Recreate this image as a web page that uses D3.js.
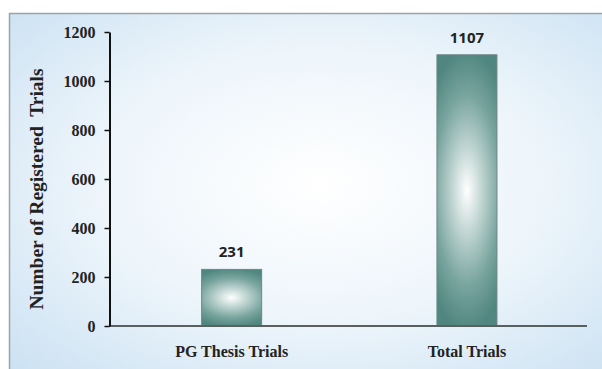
<!DOCTYPE html>
<html>
<head>
<meta charset="utf-8">
<script src="https://cdn.jsdelivr.net/npm/d3@7"></script>
<style>
  html, body { margin: 0; padding: 0; background: #ffffff; }
  svg { display: block; }
</style>
</head>
<body>
<svg id="chart" width="602" height="369"></svg>
<script>
// Registered trials: PG thesis trials versus all trials
const categories = ["PG Thesis Trials", "Total Trials"];
const trialCounts = [231, 1107];
const yTicks = [0, 200, 400, 600, 800, 1000, 1200];
const yTitle = "Number of Registered  Trials";

const svg = d3.select("#chart");
const defs = svg.append("defs");

// panel background: pale centre fading to light blue
const bg = defs.append("radialGradient")
  .attr("id", "panelGrad")
  .attr("cx", "50%").attr("cy", "45%").attr("r", "72%");
bg.append("stop").attr("offset", "0%").attr("stop-color", "#ffffff");
bg.append("stop").attr("offset", "50%").attr("stop-color", "#edf5fb");
bg.append("stop").attr("offset", "100%").attr("stop-color", "#c9e0f2");

// bar fill: white glow in the middle, teal towards the edges
const barGrad = defs.append("radialGradient")
  .attr("id", "barGrad")
  .attr("cx", 0.5).attr("cy", 0.5).attr("r", 0.52)
  .attr("gradientTransform", "translate(0.5,0.5) scale(1.55,1) translate(-0.5,-0.5)");
barGrad.append("stop").attr("offset", "0%").attr("stop-color", "#ffffff");
barGrad.append("stop").attr("offset", "28%").attr("stop-color", "#c6d9d6");
barGrad.append("stop").attr("offset", "68%").attr("stop-color", "#78a49e");
barGrad.append("stop").attr("offset", "100%").attr("stop-color", "#4f867f");

// framed panel
svg.append("rect")
  .attr("x", 9.5).attr("y", 13.5)
  .attr("width", 620).attr("height", 380)
  .attr("fill", "url(#panelGrad)")
  .attr("stroke", "#9aa3a8")
  .attr("stroke-width", 1.5);

const x = d3.scaleBand()
  .domain(categories)
  .range([114, 584.6])
  .paddingInner(0.745)
  .paddingOuter(0.3725);

const y = d3.scaleLinear()
  .domain([0, 1200])
  .range([326, 32]);

// bars
svg.append("g").selectAll("rect")
  .data(categories)
  .join("rect")
  .attr("x", d => x(d))
  .attr("y", (d, i) => y(trialCounts[i]))
  .attr("width", x.bandwidth())
  .attr("height", (d, i) => y(0) - y(trialCounts[i]))
  .attr("fill", "url(#barGrad)")
  .attr("stroke", "#6f8584")
  .attr("stroke-width", 1);

// value labels above bars
svg.append("g").selectAll("text")
  .data(categories)
  .join("text")
  .attr("x", d => x(d) + x.bandwidth() / 2)
  .attr("y", (d, i) => y(trialCounts[i]) - 12)
  .attr("text-anchor", "middle")
  .attr("font-family", "'Open Sans', sans-serif")
  .attr("font-weight", "bold")
  .attr("font-size", 15)
  .attr("fill", "#222222")
  .text((d, i) => trialCounts[i]);

// x axis baseline
svg.append("line")
  .attr("x1", 109).attr("x2", 587)
  .attr("y1", y(0)).attr("y2", y(0))
  .attr("stroke", "#5a5f60")
  .attr("stroke-width", 2);

// x axis labels
svg.append("g").selectAll("text")
  .data(categories)
  .join("text")
  .attr("x", d => x(d) + x.bandwidth() / 2)
  .attr("y", 357)
  .attr("text-anchor", "middle")
  .attr("font-family", "'Liberation Serif', 'Times New Roman', serif")
  .attr("font-weight", "bold")
  .attr("font-size", 16)
  .attr("fill", "#222222")
  .text(d => d);

// y axis
const yAxis = d3.axisLeft(y)
  .tickValues(yTicks)
  .tickFormat(d3.format("d"))
  .tickSize(5)
  .tickPadding(9)
  .tickSizeOuter(0);

const gy = svg.append("g")
  .attr("transform", "translate(109.5,0)")
  .call(yAxis);
gy.select(".domain").attr("stroke", "#111111").attr("stroke-width", 2);
gy.selectAll(".tick line").attr("stroke", "#111111").attr("stroke-width", 1.5);
gy.selectAll(".tick text")
  .attr("font-family", "'Liberation Serif', 'Times New Roman', serif")
  .attr("font-weight", "bold")
  .attr("font-size", 16)
  .attr("fill", "#222222");

// y axis title
svg.append("text")
  .attr("transform", `translate(43, ${189}) rotate(-90)`)
  .attr("text-anchor", "middle")
  .attr("font-family", "'Liberation Serif', 'Times New Roman', serif")
  .attr("font-weight", "bold")
  .attr("font-size", 19.5)
  .attr("fill", "#222222")
  .attr("xml:space", "preserve")
  .style("white-space", "pre")
  .text(yTitle);
</script>
</body>
</html>
